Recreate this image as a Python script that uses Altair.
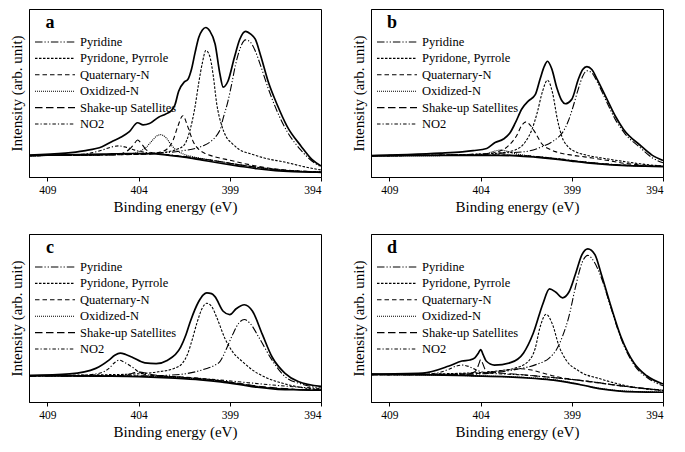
import altair as alt
import pandas as pd

E_TICKS = [409, 404, 399, 394]
COMPONENTS = ["Pyridine", "Pyridone, Pyrrole", "Quaternary-N", "Oxidized-N",
              "Shake-up Satellites", "NO2"]
DASHES = [[7.5, 2, 1.2, 2, 1.2, 2], [2.5, 1.5], [4.5, 3], [1, 1], [7.5, 3.5], [3.5, 2, 1.2, 2]]

# ---------------- panel a ----------------
A_TOTAL_E = [410, 408, 407, 406, 405.4, 405, 404.5, 404.05, 403.75, 403.4, 402.9, 402.5, 402.2, 402.0, 401.8, 401.5, 401.3, 401.1, 400.9, 400.7, 400.5, 400.31, 400.1, 399.8, 399.55, 399.36, 399.1, 398.75, 398.45, 398.13, 397.85, 397.6, 397.3, 396.9, 396.4, 395.85, 395.1, 394.5, 394]
A_TOTAL_I = [13.1, 14.2, 15.6, 18, 21.4, 23.5, 27, 32.3, 31, 31.8, 35.6, 37.5, 39.5, 43, 51, 56.5, 58, 64, 74, 83, 87.5, 89, 87, 79, 62, 53.5, 57, 71, 82, 86.7, 85, 82, 72, 57, 43, 30, 18.5, 10.5, 6.6]
A_PYRIDINE_E = [410, 404, 402.9, 401.6, 400.5, 400.0, 399.7, 399.5, 399.36, 399.1, 398.9, 398.7, 398.45, 398.13, 397.85, 397.6, 397.3, 396.9, 396.4, 395.85, 395.1, 394.5, 394]
A_PYRIDINE_I = [12.7, 13.6, 14.2, 15.6, 18.4, 21.5, 25, 29, 35, 45, 55, 66, 76, 81.6, 80, 75, 66, 53, 39, 27, 16, 9.5, 6.1]
A_PYRIDONE_E = [410, 404, 403, 402.4, 401.9, 401.5, 401.2, 400.9, 400.7, 400.5, 400.31, 400.1, 399.9, 399.72, 399.45, 399.2, 398.9, 398.5, 397.82, 397, 396, 395, 394]
A_PYRIDONE_I = [12.7, 13.7, 14.3, 15, 16.5, 19, 27, 42, 56, 68, 75.3, 72, 60, 44, 31, 24, 20.3, 16.5, 13.7, 11, 8.9, 6.3, 4.2]
A_QUAT_E = [410, 403.5, 402.8, 402.4, 402.1, 401.85, 401.57, 401.3, 401.0, 400.7, 400.3, 399.8, 399, 398, 397, 396, 395, 394]
A_QUAT_I = [12.7, 13.6, 14.8, 17, 22, 30, 36.5, 30, 21, 16.5, 13.8, 12, 10, 7.5, 5.5, 4.2, 3.4, 3]
A_OXID_E = [410, 404.5, 404, 403.6, 403.3, 403.05, 402.79, 402.5, 402.2, 401.9, 401.5, 401, 400, 399, 398, 396, 394]
A_OXID_I = [12.7, 13.8, 15, 17.5, 21, 24, 25.2, 23.5, 19, 15.8, 13.5, 12, 10, 8.2, 6.5, 4, 3]
A_SHAKE_E = [410, 405.2, 404.8, 404.5, 404.25, 404.05, 403.85, 403.6, 403.3, 402.9, 402, 401, 400, 399, 398, 396, 394]
A_SHAKE_I = [12.7, 13.3, 14.5, 16.5, 19.5, 22, 20, 16.5, 14.6, 13.8, 12.8, 11.5, 10, 8.2, 6.5, 4, 3]
A_NO2_E = [410, 407.5, 406.5, 406, 405.5, 405.1, 404.7, 404.2, 403.7, 403, 402, 401, 400, 398, 396, 394]
A_NO2_I = [12.7, 13.2, 14.5, 16, 17.8, 18.5, 17.8, 16, 14.8, 13.9, 12.8, 11.5, 10, 6.5, 4, 3]
A_BG_E = [410, 408, 406, 404.5, 403.5, 402.5, 401.5, 400.5, 399.5, 398.5, 397.5, 396.5, 395.5, 394.5, 394]
A_BG_I = [12.8, 13.2, 13.6, 14, 13.9, 13.2, 11.8, 10, 8.2, 6.5, 4.9, 3.8, 3.2, 2.9, 2.8]

# ---------------- panel b ----------------
B_TOTAL_E = [410, 408, 406.2, 405, 404.4, 403.66, 403.2, 402.74, 402.4, 402.1, 401.73, 401.37, 401.0, 400.73, 400.5, 400.33, 400.1, 399.81, 399.55, 399.36, 399.0, 398.63, 398.4, 398.17, 397.9, 397.6, 397.1, 396.6, 396.16, 395.25, 394.6, 394]
B_TOTAL_I = [12.8, 13.4, 14.2, 15, 15.7, 17, 20.5, 22.6, 26, 32, 40.6, 45.3, 49, 58.5, 66, 68.9, 64.5, 52.8, 45.5, 43.6, 46.2, 58.5, 64, 65.7, 64, 58, 47, 36, 28.3, 18.9, 13, 9.8]
B_PYRIDINE_E = [410, 404, 403, 401.55, 400.64, 400.0, 399.7, 399.45, 399.2, 398.99, 398.63, 398.4, 398.17, 397.9, 397.6, 397.1, 396.6, 396.1, 395.25, 394.6, 394]
B_PYRIDINE_I = [12.6, 13.6, 14.2, 15.1, 18, 21.5, 24, 27.4, 33, 39.6, 52.8, 60, 63.2, 62, 56.5, 45, 34, 26, 17.5, 11.5, 8.5]
B_PYRIDONE_E = [410, 404, 403, 402.1, 401.55, 401.18, 400.9, 400.6, 400.33, 400.05, 399.8, 399.54, 399.2, 398.81, 398.2, 397.35, 396, 395, 394]
B_PYRIDONE_I = [12.6, 13.6, 14.2, 16.1, 20.8, 28.3, 38, 51, 57.6, 50, 35, 24, 18, 15.1, 13, 11.3, 9, 7.5, 6.5]
B_QUAT_E = [410, 404, 403.2, 402.65, 402.3, 402.0, 401.75, 401.5, 401.25, 401.0, 400.64, 400.2, 399.9, 399, 398.3, 397, 396, 395, 394]
B_QUAT_I = [12.6, 13.6, 14.6, 17, 20.5, 25, 30.5, 32.8, 30.5, 26.4, 19.8, 16.5, 15.1, 13, 12, 9.8, 8, 7, 6.5]
B_OXID_E = [410, 404.5, 403.8, 403.3, 402.9, 402.5, 402.1, 401.5, 400.5, 399, 397, 395, 394]
B_OXID_I = [12.6, 12.9, 13.6, 15.2, 16, 15.2, 13.9, 12.8, 11.4, 9.6, 7.4, 6.4, 6.2]
B_SHAKE_E = [410, 406, 403, 402, 401, 400, 399, 398, 397, 396, 395, 394]
B_SHAKE_I = [12.7, 12.9, 13.1, 12.9, 12.1, 11.1, 9.8, 8.6, 7.6, 7.0, 6.6, 6.4]
B_NO2_E = [410, 406, 404, 402, 400, 398, 396, 394]
B_NO2_I = [12.8, 13.0, 13.1, 12.9, 11.2, 8.6, 7.0, 6.4]
B_BG_E = [410, 406, 403, 402, 401, 400, 399, 398, 397, 396, 395, 394]
B_BG_I = [12.6, 12.8, 12.9, 12.6, 11.8, 10.8, 9.5, 8.3, 7.4, 6.8, 6.4, 6.2]

# ---------------- panel c ----------------
C_TOTAL_E = [410, 407.77, 406.34, 405.62, 405.3, 405.0, 404.7, 404.37, 403.65, 403.03, 402.4, 401.69, 401.4, 401.15, 400.7, 400.45, 400.26, 400.0, 399.81, 399.36, 399.0, 398.65, 398.2, 397.75, 397.22, 396.68, 395.97, 395.25, 394]
C_TOTAL_I = [15.7, 16.7, 20, 24.9, 27.8, 29.1, 28.3, 26.8, 23.3, 22.9, 24.9, 32.6, 40, 48.2, 59.8, 63.8, 65, 64.5, 62.7, 54, 52, 55.5, 57.9, 54, 40.4, 26.8, 17.1, 12.2, 9.3]
C_PYRIDINE_E = [410, 404, 402.9, 401.5, 400.26, 399.8, 399.54, 399.18, 398.83, 398.5, 398.2, 397.9, 397.4, 396.68, 395.97, 395, 394]
C_PYRIDINE_I = [15.3, 15.5, 15.7, 16.7, 20, 22, 24, 31.7, 40.4, 47, 49.1, 47, 38.4, 24.9, 15.1, 10.5, 8.3]
C_PYRIDONE_E = [410, 406, 404.2, 402.9, 402.05, 401.6, 401.33, 401.06, 400.8, 400.5, 400.26, 400.0, 399.7, 399.27, 398.83, 398.3, 397.75, 397, 396.15, 395, 394]
C_PYRIDONE_I = [15.7, 16.2, 16.7, 18, 20, 23, 28, 37, 47, 56, 58.8, 57, 50, 38, 29.7, 24, 19, 14.5, 11.3, 8.5, 7.4]
C_QUAT_E = [410, 406, 404, 402.5, 401.5, 400.5, 399.5, 398.5, 397.5, 396.5, 395.5, 394]
C_QUAT_I = [15.6, 15.5, 15.4, 15.2, 14.8, 13.8, 12.5, 11.0, 9.3, 8.1, 7.5, 7.2]
C_OXID_E = [410, 406, 404, 402, 400.5, 399, 397.5, 396, 394]
C_OXID_I = [15.8, 15.6, 15.3, 14.6, 13.5, 11.7, 9.2, 7.8, 7.1]
C_SHAKE_E = [410, 405, 404.5, 404.2, 403.9, 403.6, 403.2, 402.5, 401.5, 400, 398.5, 397, 395.5, 394]
C_SHAKE_I = [15.6, 15.8, 16.6, 17.5, 17.8, 17.2, 16.2, 15.4, 14.6, 13.3, 11, 8.9, 7.6, 7.2]
C_NO2_E = [410, 407, 406.34, 405.9, 405.62, 405.3, 405.05, 404.75, 404.37, 403.83, 403, 402, 400, 398, 396, 394]
C_NO2_I = [15.5, 16, 16.7, 18, 20, 23.5, 24.9, 23.5, 21, 17, 15.5, 15, 13.5, 11.5, 9.5, 8]
C_BG_E = [410, 406, 404, 402, 400.6, 399.5, 398.5, 397.5, 396.5, 395.5, 394]
C_BG_I = [15.7, 15.4, 15.1, 14.2, 13.2, 12, 10.5, 8.8, 7.7, 7.3, 7.0]

# ---------------- panel d ----------------
D_TOTAL_E = [410, 407.16, 405.73, 405.02, 404.58, 404.31, 404.12, 403.99, 403.85, 403.69, 403.24, 402.36, 401.64, 401.11, 400.58, 400.22, 399.87, 399.51, 399.16, 398.8, 398.44, 398.12, 397.73, 397.38, 396.84, 396.31, 395.6, 394.89, 394]
D_TOTAL_I = [16.6, 17.2, 21.4, 24.4, 25, 26.3, 29, 31.2, 28, 24.4, 22, 23.4, 29.2, 40.9, 58.5, 67.3, 65.3, 62, 65.3, 76, 87.7, 91.2, 87.7, 76, 56.5, 39, 23.4, 15.6, 10.7]
D_PYRIDINE_E = [410, 404.5, 403.24, 402, 400.93, 400.22, 399.85, 399.51, 399.16, 398.8, 398.44, 398.12, 397.75, 397.38, 396.84, 396.31, 395.6, 394.8, 394]
D_PYRIDINE_I = [16.2, 16.5, 17.5, 19.5, 22.4, 26.3, 31, 39, 50.7, 68.2, 82.8, 87.3, 83, 74, 55.6, 38, 22.4, 14, 9.7]
D_PYRIDONE_E = [410, 404, 403.07, 402, 401.29, 401.0, 400.75, 400.4, 400.05, 399.69, 399.33, 398.62, 397.38, 395.6, 394]
D_PYRIDONE_I = [16.2, 17.5, 18.5, 20.5, 25.3, 32, 44, 52.2, 46, 33, 25.3, 18.5, 13.6, 8.8, 6.8]
D_QUAT_E = [410, 405, 404, 403, 402.3, 401.8, 401.2, 400.5, 399.8, 399, 398, 396, 394]
D_QUAT_I = [16.2, 16.6, 17.2, 18.3, 19.4, 19.8, 19, 17, 15, 13.5, 12, 9.2, 7]
D_OXID_E = [410, 406, 404, 402, 400.5, 399.5, 398.5, 397.5, 396.5, 395, 394]
D_OXID_I = [16.4, 16, 15.5, 14.8, 13.8, 12.5, 10.3, 8.2, 6.8, 6.1, 5.9]
D_SHAKE_E = [410, 405, 404.4, 404.2, 404.08, 403.99, 403.88, 403.75, 403.5, 403, 402, 400, 398, 396, 394]
D_SHAKE_I = [16.2, 16.6, 17.5, 19.5, 23, 25.3, 23, 19.5, 17.8, 17.3, 16.5, 14.5, 12.2, 9.2, 7]
D_NO2_E = [410, 407, 406.27, 405.73, 405.35, 405.02, 404.65, 404.31, 403.78, 403, 402, 400, 398, 396, 394]
D_NO2_I = [16.2, 16.6, 17.5, 19.5, 21.3, 22, 21.2, 19.5, 17.5, 16.8, 16.3, 14.5, 12.2, 9.2, 7]
D_BG_E = [410, 406, 404.5, 402.5, 401, 400, 399.2, 398.3, 397.4, 396.5, 395.5, 394]
D_BG_I = [16.6, 16, 15.6, 15, 14, 13, 11.7, 9.8, 7.8, 6.6, 6, 5.8]

PANELS = {
    "a": {"Total": (A_TOTAL_E, A_TOTAL_I), "Background": (A_BG_E, A_BG_I),
          "Pyridine": (A_PYRIDINE_E, A_PYRIDINE_I), "Pyridone, Pyrrole": (A_PYRIDONE_E, A_PYRIDONE_I),
          "Quaternary-N": (A_QUAT_E, A_QUAT_I), "Oxidized-N": (A_OXID_E, A_OXID_I),
          "Shake-up Satellites": (A_SHAKE_E, A_SHAKE_I), "NO2": (A_NO2_E, A_NO2_I)},
    "b": {"Total": (B_TOTAL_E, B_TOTAL_I), "Background": (B_BG_E, B_BG_I),
          "Pyridine": (B_PYRIDINE_E, B_PYRIDINE_I), "Pyridone, Pyrrole": (B_PYRIDONE_E, B_PYRIDONE_I),
          "Quaternary-N": (B_QUAT_E, B_QUAT_I), "Oxidized-N": (B_OXID_E, B_OXID_I),
          "Shake-up Satellites": (B_SHAKE_E, B_SHAKE_I), "NO2": (B_NO2_E, B_NO2_I)},
    "c": {"Total": (C_TOTAL_E, C_TOTAL_I), "Background": (C_BG_E, C_BG_I),
          "Pyridine": (C_PYRIDINE_E, C_PYRIDINE_I), "Pyridone, Pyrrole": (C_PYRIDONE_E, C_PYRIDONE_I),
          "Quaternary-N": (C_QUAT_E, C_QUAT_I), "Oxidized-N": (C_OXID_E, C_OXID_I),
          "Shake-up Satellites": (C_SHAKE_E, C_SHAKE_I), "NO2": (C_NO2_E, C_NO2_I)},
    "d": {"Total": (D_TOTAL_E, D_TOTAL_I), "Background": (D_BG_E, D_BG_I),
          "Pyridine": (D_PYRIDINE_E, D_PYRIDINE_I), "Pyridone, Pyrrole": (D_PYRIDONE_E, D_PYRIDONE_I),
          "Quaternary-N": (D_QUAT_E, D_QUAT_I), "Oxidized-N": (D_OXID_E, D_OXID_I),
          "Shake-up Satellites": (D_SHAKE_E, D_SHAKE_I), "NO2": (D_NO2_E, D_NO2_I)},
}

SERIF = "Liberation Serif"
NARROW = "Liberation Sans Narrow"
W, H = 292, 168


def panel(letter):
    rows = []
    for name, (es, ys) in PANELS[letter].items():
        for e, v in zip(es, ys):
            rows.append({"E": e, "I": v, "series": name})
    df = pd.DataFrame(rows)

    x = alt.X("E:Q", scale=alt.Scale(domain=[410, 394], nice=False, zero=False),
              axis=alt.Axis(values=E_TICKS, title="Binding energy (eV)", tickSize=4,
                            labelPadding=3, titlePadding=4, format="d"))
    y = alt.Y("I:Q", scale=alt.Scale(domain=[0, 100], nice=False, zero=False),
              axis=alt.Axis(labels=False, ticks=False, title="Intensity (arb. unit)",
                            titlePadding=5, minExtent=0))
    order = alt.Order("E:Q", sort="descending")
    base = alt.Chart(df)

    comps = base.transform_filter(
        alt.FieldOneOfPredicate(field="series", oneOf=COMPONENTS)
    ).mark_line(color="black", strokeWidth=1.1, interpolate="monotone").encode(
        x=x, y=y, order=order,
        strokeDash=alt.StrokeDash(
            "series:N",
            scale=alt.Scale(domain=COMPONENTS, range=DASHES),
            legend=alt.Legend(title=None, orient="none", legendX=5, legendY=26,
                              symbolType="stroke", symbolSize=1600, symbolStrokeWidth=1.1,
                              symbolStrokeColor="black", clipHeight=14, rowPadding=2.4,
                              labelFont=SERIF, labelFontSize=12.5, labelColor="black",
                              labelOffset=4, padding=0, labelLimit=200),
        ),
    )
    solid = base.transform_filter(
        alt.FieldOneOfPredicate(field="series", oneOf=["Total", "Background"])
    ).mark_line(color="black", strokeWidth=1.7, interpolate="monotone").encode(
        x=x, y=y, order=order, detail="series:N",
    )
    label = alt.Chart(pd.DataFrame({"t": [letter]})).mark_text(
        font=SERIF, fontWeight="bold", fontSize=18, align="center", baseline="middle",
        color="black",
    ).encode(text="t:N", x=alt.value(21), y=alt.value(14))

    return alt.layer(solid, comps, label).properties(width=W, height=H)


row1 = alt.hconcat(panel("a"), panel("b"), spacing=25).resolve_scale(
    strokeDash="independent").resolve_legend(strokeDash="independent")
row2 = alt.hconcat(panel("c"), panel("d"), spacing=25).resolve_scale(
    strokeDash="independent").resolve_legend(strokeDash="independent")

chart = alt.vconcat(row1, row2, spacing=18).resolve_scale(
    strokeDash="independent").resolve_legend(strokeDash="independent").configure(
    padding=0, background="white"
).configure_view(stroke="black", strokeWidth=1).configure_axis(
    grid=False, domainColor="black", domainWidth=1, tickColor="black",
    labelFont=NARROW, labelFontSize=11.5, labelColor="black",
    titleFont=SERIF, titleFontSize=15, titleFontWeight="normal", titleColor="black",
)

chart.save("out.html", embed_options={"renderer": "svg", "actions": False})
